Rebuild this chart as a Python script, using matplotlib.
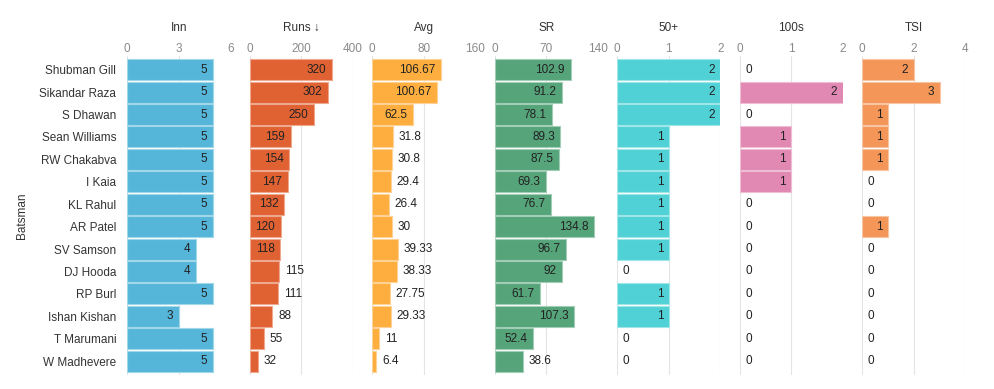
import matplotlib
matplotlib.use("Agg")
import matplotlib.pyplot as plt
from matplotlib.colors import to_rgb

plt.rcParams["font.family"] = ["Liberation Sans", "DejaVu Sans"]

# ----------------------------
# Data
# ----------------------------
batsmen = ["Shubman Gill", "Sikandar Raza", "S Dhawan", "Sean Williams", "RW Chakabva",
           "I Kaia", "KL Rahul", "AR Patel", "SV Samson", "DJ Hooda", "RP Burl",
           "Ishan Kishan", "T Marumani", "W Madhevere"]
inn = [5, 5, 5, 5, 5, 5, 5, 5, 4, 4, 5, 3, 5, 5]
runs = [320, 302, 250, 159, 154, 147, 132, 120, 118, 115, 111, 88, 55, 32]
avg = [106.67, 100.67, 62.5, 31.8, 30.8, 29.4, 26.4, 30, 39.33, 38.33, 27.75, 29.33, 11, 6.4]
sr = [102.9, 91.2, 78.1, 89.3, 87.5, 69.3, 76.7, 134.8, 96.7, 92, 61.7, 107.3, 52.4, 38.6]
fifties = [2, 2, 2, 1, 1, 1, 1, 1, 1, 0, 1, 1, 0, 0]
hundreds = [0, 2, 0, 1, 1, 1, 0, 0, 0, 0, 0, 0, 0, 0]
tsi = [2, 3, 1, 1, 1, 0, 0, 1, 0, 0, 0, 0, 0, 0]

headers = ["Inn", "Runs \u2193", "Avg", "SR", "50+", "100s", "TSI"]
series = [inn, runs, avg, sr, fifties, hundreds, tsi]
axis_max = [6, 400, 160, 140, 2, 2, 4]
colors = ["#55b6d9", "#e06132", "#fdae3e", "#55a47a", "#50d1d6", "#e188b3", "#f39658"]

# ----------------------------
# Layout (pixels)
# ----------------------------
W, H = 994, 389
fig = plt.figure(figsize=(W / 100, H / 100), dpi=100)

left0, step, pw = 127.3, 122.5, 103.0
top, bot = 56.0, 375.0
row0, rowh = 69.7, 22.42
fs = 8.5


def lighten(c, f=0.45):
    r, g, b = to_rgb(c)
    return (r + (1 - r) * f, g + (1 - g) * f, b + (1 - b) * f)


for k, (head, vals, xmax, col) in enumerate(zip(headers, series, axis_max, colors)):
    x0 = left0 + k * step
    ax = fig.add_axes([x0 / W, 1 - bot / H, pw / W, (bot - top) / H])
    y = list(range(len(batsmen)))
    edges = [lighten(col) if v > 0 else "none" for v in vals]
    ax.barh(y, vals, height=0.94, color=col, edgecolor=edges, linewidth=0.8, zorder=2)
    ax.set_xlim(0, xmax)
    ax.set_ylim((bot - row0) / rowh, (top - row0) / rowh)

    ticks = [0, xmax / 2, xmax]
    ax.set_xticks(ticks)
    ax.set_xticklabels([f"{t:g}" for t in ticks], fontsize=fs, color="#8a8a8a")
    for lbl, ha in zip(ax.get_xticklabels(), ["left", "center", "right"]):
        lbl.set_horizontalalignment(ha)
    ax.xaxis.tick_top()
    ax.tick_params(axis="x", length=0, pad=0.6)
    ax.grid(axis="x", color="#e4e4e4", linewidth=0.8, zorder=0)
    for s in ax.spines.values():
        s.set_visible(False)

    if k == 0:
        ax.set_yticks(y)
        ax.set_yticklabels(batsmen, fontsize=fs, color="#333333")
        ax.tick_params(axis="y", length=0, pad=8)
    else:
        ax.set_yticks([])

    ax.text(0.5, 1 + (top - 28) / (bot - top), head, transform=ax.transAxes,
            ha="center", va="center", fontsize=fs, color="#333333")

    # value labels: inside the bar if the text fits, otherwise to its right
    for i, v in enumerate(vals):
        txt = f"{v:g}"
        bar_px = v / xmax * pw
        if bar_px >= len(txt) * 6.5 + 10.5:
            ax.annotate(txt, (v, i), xytext=(-4, 0), textcoords="offset points",
                        ha="right", va="center", fontsize=fs, color="#222222", zorder=3)
        else:
            ax.annotate(txt, (v, i), xytext=(4, 0), textcoords="offset points",
                        ha="left", va="center", fontsize=fs, color="#222222", zorder=3)

fig.text(22.5 / W, 1 - 215.5 / H, "Batsman", rotation=90, ha="center", va="center",
         fontsize=fs, color="#333333")

fig.savefig("out.png", dpi=100)
